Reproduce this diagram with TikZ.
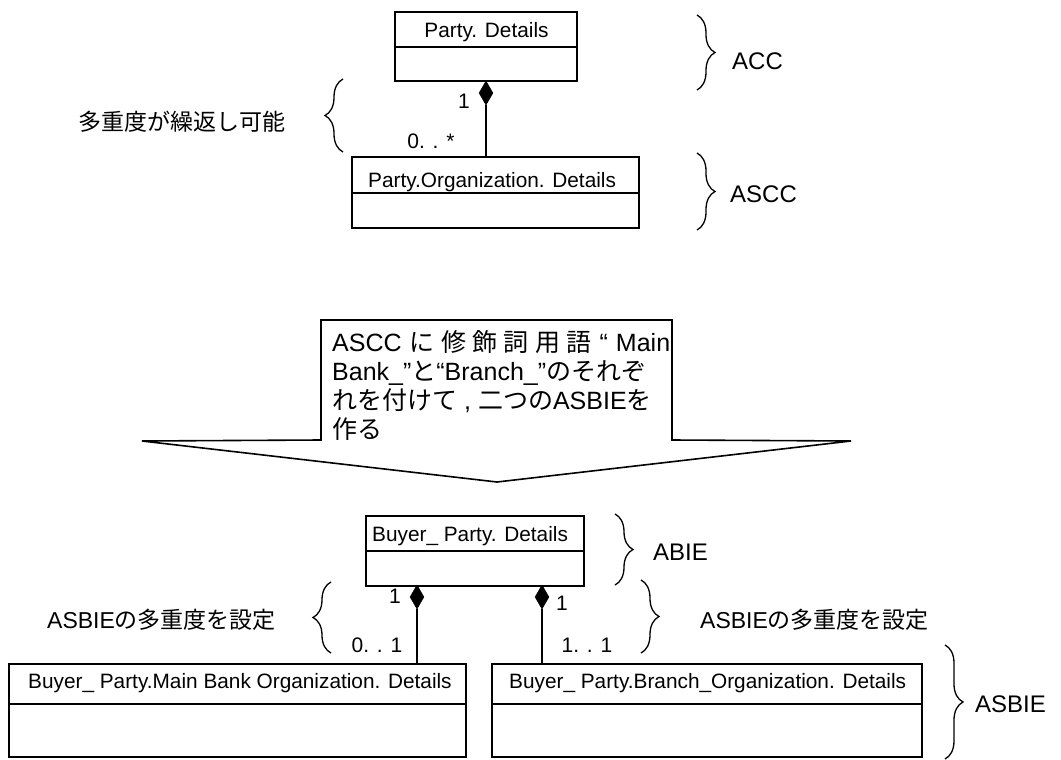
\documentclass[tikz,border=0pt]{standalone}
\usepackage{fontspec}
\setmainfont{Liberation Sans}
\newfontfamily\jp{Noto Sans CJK JP}
\usetikzlibrary{shapes.geometric,decorations.pathreplacing}

\begin{document}
\begin{tikzpicture}[x=1pt,y=-1pt,
  box/.style={draw, line width=1.6pt, inner sep=0pt},
  divider/.style={line width=1.6pt},
  title/.style={font=\fontsize{20.8}{24}\selectfont, inner sep=0pt, anchor=base west},
  comp/.style={diamond, fill=black, draw=black, line width=0.5pt, minimum width=14pt, minimum height=24pt, inner sep=0pt},
  assoc/.style={line width=1.4pt},
  mult/.style={font=\fontsize{21}{24}\selectfont, inner sep=0pt, anchor=base},
  tag/.style={font=\fontsize{24}{28}\selectfont, inner sep=0pt, anchor=base west},
  note/.style={font=\fontsize{23}{27}\selectfont, inner sep=0pt, anchor=base west},
  curly/.style={decorate, decoration={brace, amplitude=18pt}, line width=1.3pt},
  calloutline/.style={line width=1.6pt, line join=miter},
  callout/.style={font=\fontsize{25}{29}\selectfont, inner sep=0pt, anchor=base west}]

\useasboundingbox (0,0) rectangle (1061,760);

% ---------- core component level ----------
\node[box, minimum width=182pt, minimum height=69pt] (pd) at (486,46.5) {};
\draw[divider] (395,47) -- (577,47);
\node[title, anchor=base] (pdt) at (486.5,38) {Party. Details};

\node[box, minimum width=287pt, minimum height=71pt] (pod) at (495.5,192.5) {};
\draw[divider] (352,193) -- (639,193);
\node[title] (podt) at (368,187) {Party.Organization. Details};

\node[comp] (d1) at (486,93) {};
\draw[assoc] (d1.south) -- (d1.south |- pod.north);
\node[mult] (m1) at (464,108) {1};
\node[mult] (m2) at (431,148) {0. . *};

\draw[curly] (343,152) -- (343,79);
\node[note] (lbl1) at (78,131) {\jp 多重度が繰返し可能};

\draw[curly] (697,15) -- (697,90);
\node[tag] (acc) at (732,70) {ACC};
\draw[curly] (697,153) -- (697,230);
\node[tag] (ascc) at (730,202) {ASCC};

% ---------- callout arrow ----------
\draw[calloutline] (321,440) -- (321,320) -- (672,320) -- (672,440)
  -- (851,441) -- (497,482) -- (142,441) -- cycle;
\node[callout] (c1) at (332,351) {\makebox[338pt][s]{ASCC {\jp に 修 飾 詞 用 語} “ Main}};
\node[callout] (c2) at (332,380) {Bank\_”{\jp と}“Branch\_”{\jp のそれぞ}};
\node[callout] (c3) at (332,409) {{\jp れを付けて} , {\jp 二つの}ASBIE{\jp を}};
\node[callout] (c4) at (332,438) {\jp 作る};

% ---------- business information entity level ----------
\node[box, minimum width=218pt, minimum height=70pt] (bpd) at (475,551) {};
\draw[divider] (366,551) -- (584,551);
\node[title] (bpdt) at (372,541) {Buyer\_ Party. Details};

\node[box, minimum width=457pt, minimum height=93pt] (mb) at (237.5,710.5) {};
\draw[divider] (9,704) -- (466,704);
\node[title] (mbt) at (28,688) {Buyer\_ Party.Main Bank Organization. Details};

\node[box, minimum width=430pt, minimum height=93pt] (br) at (707,710.5) {};
\draw[divider] (492,704) -- (922,704);
\node[title] (brt) at (509,688) {Buyer\_ Party.Branch\_Organization. Details};

\node[comp] (d2) at (417,597) {};
\draw[assoc] (d2.south) -- (d2.south |- mb.north);
\node[comp] (d3) at (542,597) {};
\draw[assoc] (d3.south) -- (d3.south |- br.north);

\node[mult] (m3) at (395,603) {1};
\node[mult] (m4) at (562,610) {1};
\node[mult] (m5) at (377,652) {0. . 1};
\node[mult] (m6) at (587,652) {1. . 1};

\draw[curly] (615,514) -- (615,585);
\node[tag] (abie) at (653,560) {ABIE};

\draw[curly] (331,653) -- (331,582);
\node[note] (lbl2) at (47,628) {ASBIE{\jp の多重度を設定}};
\draw[curly] (641,580) -- (641,653);
\node[note] (lbl3) at (700,628) {ASBIE{\jp の多重度を設定}};

\draw[curly] (945,645) -- (945,759);
\node[tag] (asbie) at (975,712) {ASBIE};

\end{tikzpicture}
\end{document}
